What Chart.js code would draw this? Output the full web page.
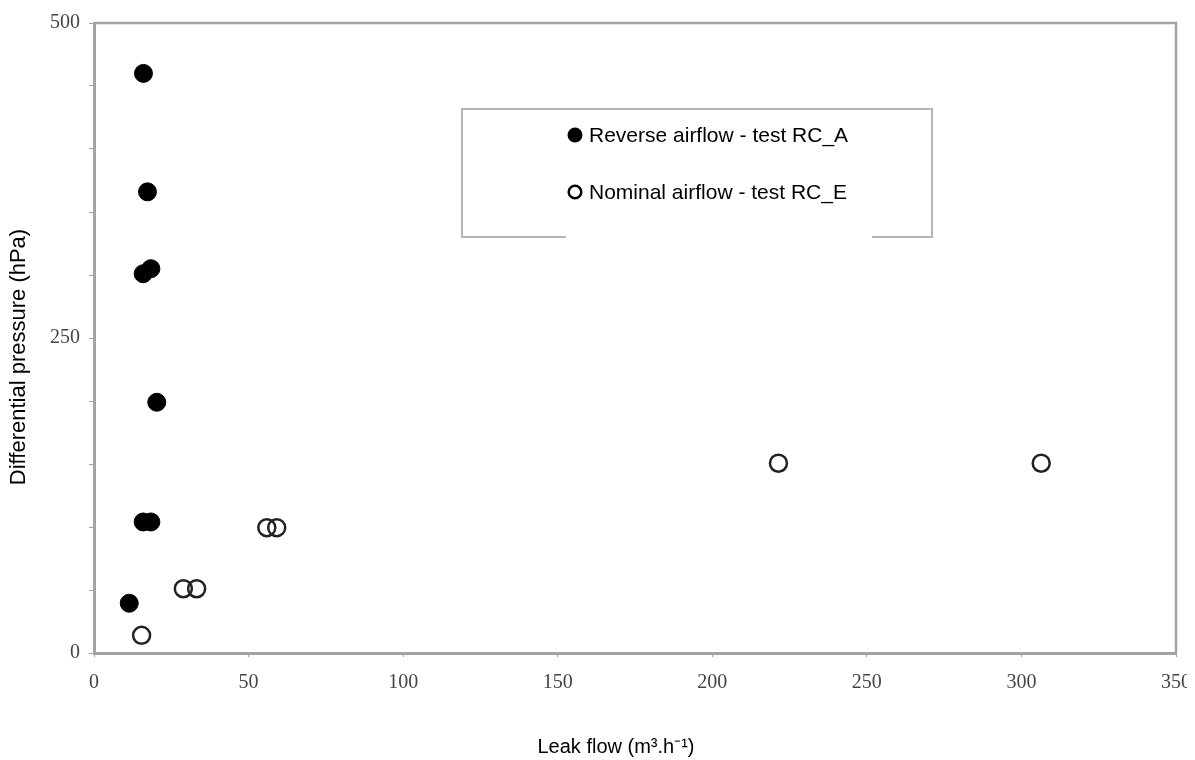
<!DOCTYPE html>
<html>
<head>
<meta charset="utf-8">
<script src="https://cdn.jsdelivr.net/npm/chart.js@4.4.1/dist/chart.umd.min.js"></script>
<style>
  html, body { margin: 0; padding: 0; background: #fff; }
  #wrap { width: 1187px; height: 760px; }
</style>
</head>
<body>
<div id="wrap"><canvas id="chart" width="1187" height="760"></canvas></div>
<script>
// leak flow (m3/h) vs differential pressure (hPa)
const reverseFlow = [16.0, 17.3, 15.9, 18.4, 20.3, 15.9, 18.4, 11.4];
const reversePressure = [460, 366, 301, 305, 199, 104, 104, 39.5];
const nominalFlow = [15.4, 28.9, 33.2, 55.9, 59.1, 221.4, 306.4];
const nominalPressure = [14, 51, 51, 99.5, 99.5, 150.6, 150.6];
const seriesLabels = ['Reverse airflow - test RC_A', 'Nominal airflow - test RC_E'];
const xTicks = [0, 50, 100, 150, 200, 250, 300, 350];
const yTickLabels = [0, 250, 500];
const xTitle = 'Leak flow (m\u00B3.h\u207B\u00B9)';
const yTitle = 'Differential pressure (hPa)';

const toPoints = (xs, ys) => xs.map((x, i) => ({ x: x, y: ys[i] }));

const axisGrey = '#a3a3a3';
const tickFont = { family: 'Liberation Serif', size: 20 };

// frame, axis titles and the boxed legend
const decorations = {
  id: 'decorations',
  afterDraw(chart) {
    const ctx = chart.ctx;
    const a = chart.chartArea;
    ctx.save();

    // top / right frame lines
    ctx.strokeStyle = axisGrey;
    ctx.lineWidth = 2.5;
    ctx.beginPath();
    ctx.moveTo(a.left, a.top);
    ctx.lineTo(a.right, a.top);
    ctx.lineTo(a.right, a.bottom);
    ctx.stroke();

    // axis titles
    ctx.fillStyle = '#000';
    ctx.textAlign = 'center';
    ctx.textBaseline = 'middle';
    ctx.font = '20px "Liberation Sans", Arial, sans-serif';
    ctx.fillText(xTitle, 616, 747);
    ctx.save();
    ctx.translate(19, 357);
    ctx.rotate(-Math.PI / 2);
    ctx.font = '22px "Liberation Sans", Arial, sans-serif';
    ctx.fillText(yTitle, 0, 0);
    ctx.restore();

    // legend box
    ctx.strokeStyle = '#b5b5b5';
    ctx.lineWidth = 2;
    ctx.strokeRect(462, 109, 470, 128);
    ctx.fillStyle = '#fff';
    ctx.fillRect(566, 118, 306, 124);

    const rows = [135, 192];
    chart.data.datasets.forEach((ds, i) => {
      const y = rows[i];
      ctx.beginPath();
      if (ds.filled) {
        ctx.arc(575, y, 7.5, 0, Math.PI * 2);
        ctx.fillStyle = '#000';
        ctx.fill();
      } else {
        ctx.arc(575, y, 6.3, 0, Math.PI * 2);
        ctx.strokeStyle = '#000';
        ctx.lineWidth = 2.5;
        ctx.stroke();
      }
      ctx.fillStyle = '#000';
      ctx.textAlign = 'left';
      ctx.textBaseline = 'middle';
      ctx.font = '21px "Liberation Sans", Arial, sans-serif';
      ctx.fillText(ds.label, 589, y + 1);
    });
    ctx.restore();
  }
};

new Chart(document.getElementById('chart'), {
  type: 'scatter',
  data: {
    datasets: [
      {
        label: seriesLabels[0],
        filled: true,
        data: toPoints(reverseFlow, reversePressure),
        backgroundColor: '#000',
        borderColor: '#000',
        borderWidth: 1,
        pointRadius: 9
      },
      {
        label: seriesLabels[1],
        filled: false,
        data: toPoints(nominalFlow, nominalPressure),
        backgroundColor: 'rgba(0,0,0,0)',
        borderColor: '#222',
        borderWidth: 2.5,
        pointRadius: 8.5
      }
    ]
  },
  options: {
    responsive: false,
    animation: false,
    layout: { padding: { top: 23, right: 11, left: 0, bottom: 0 } },
    plugins: {
      legend: { display: false },
      tooltip: { enabled: false }
    },
    scales: {
      x: {
        type: 'linear',
        min: 0,
        max: 350,
        afterBuildTicks: s => { s.ticks = xTicks.map(v => ({ value: v })); },
        ticks: { font: tickFont, color: '#444', padding: 14, maxRotation: 0, autoSkip: false },
        grid: { drawOnChartArea: false, drawTicks: true, tickLength: 4, color: axisGrey },
        border: { color: axisGrey, width: 3 },
        afterFit: s => { s.height = 107; s.paddingLeft = 0; s.paddingRight = 0; }
      },
      y: {
        min: 0,
        max: 500,
        ticks: {
          stepSize: 50,
          font: tickFont,
          color: '#444',
          padding: 9,
          callback: v => yTickLabels.includes(v) ? String(v) : ''
        },
        grid: { drawOnChartArea: false, drawTicks: true, tickLength: 5, color: axisGrey },
        border: { color: axisGrey, width: 3 },
        afterFit: s => { s.width = 94; s.paddingTop = 0; s.paddingBottom = 0; }
      }
    }
  },
  plugins: [decorations]
});
</script>
</body>
</html>
